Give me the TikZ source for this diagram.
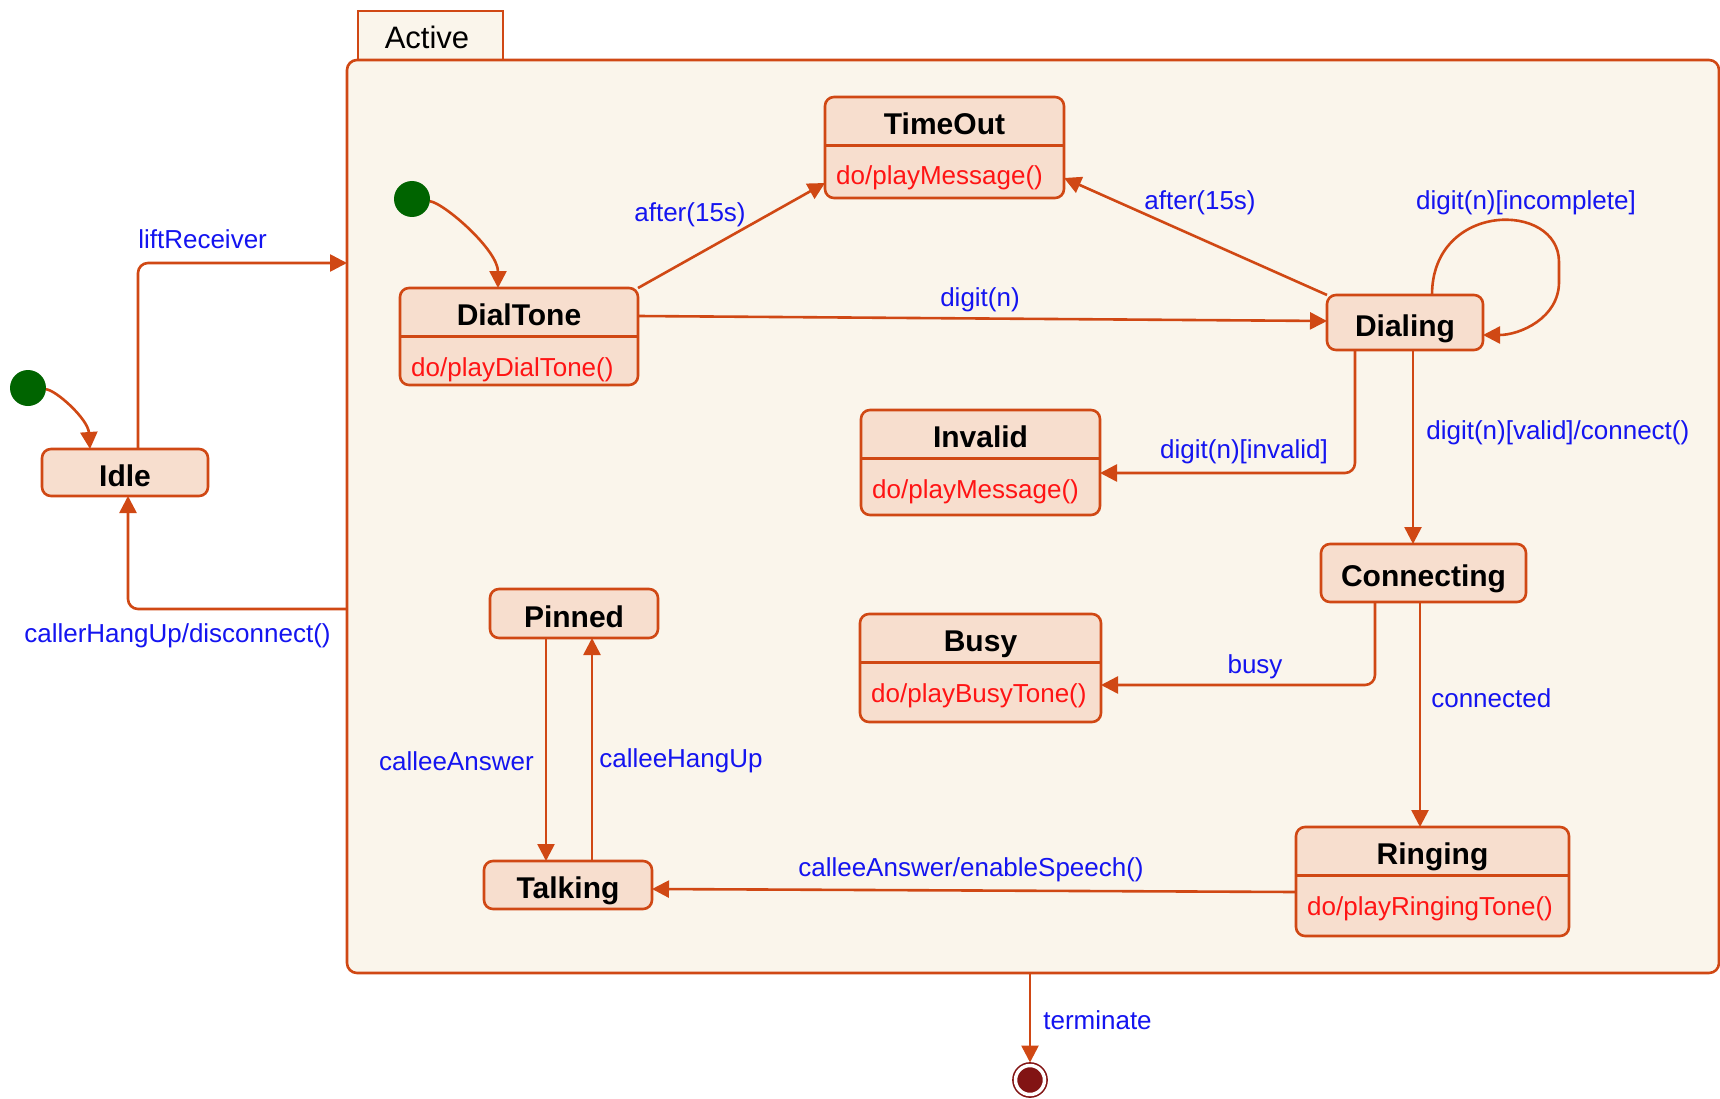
\documentclass[tikz,border=0pt]{standalone}
\usepackage{fontspec}
\setmainfont{Liberation Sans}
\usetikzlibrary{arrows.meta,calc}
\definecolor{edgec}{RGB}{208,72,20}
\definecolor{statefill}{RGB}{247,222,206}
\definecolor{framefill}{RGB}{250,245,235}
\definecolor{lblblue}{RGB}{20,20,240}
\definecolor{actred}{RGB}{255,20,20}
\definecolor{initgreen}{RGB}{0,100,0}
\definecolor{finalc}{RGB}{130,20,20}
\newcommand\fTitle{\fontsize{30}{34}\selectfont\bfseries}
\newcommand\fLbl{\fontsize{26}{30}\selectfont}
\newcommand\fAct{\fontsize{26}{30}\selectfont}
\newcommand\fActive{\fontsize{31}{35}\selectfont}
\newcommand\twostate[7]{%
  \node[statebox, minimum width=#4pt, minimum height=#5pt] (#1) at (#2,#3) {};
  \draw[divider] ($(#1.north west)+(0,48.5)$) -- ($(#1.north east)+(0,48.5)$);
  \node[title, anchor=base] (#1T) at ($(#1.north)+(0,37.5)$) {#6};
  \node[act, anchor=base west] (#1A) at ($(#1.north west)+(11,88)$) {#7};
}
\begin{document}
\begin{tikzpicture}[x=1pt,y=-1pt,
  conn/.style={draw=edgec, line width=2.6pt, -{Triangle[length=17pt,width=17pt]}, rounded corners=10pt},
  statebox/.style={draw=edgec, fill=statefill, line width=2.6pt, rounded corners=9pt, inner sep=0pt, outer sep=0pt},
  onestate/.style={statebox, font=\fTitle, text height=27pt, text depth=0pt},
  divider/.style={draw=edgec, line width=2.6pt},
  title/.style={font=\fTitle, inner sep=0pt, text=black},
  act/.style={font=\fAct, text=actred, inner sep=0pt},
  lbl/.style={font=\fLbl, text=lblblue, inner sep=0pt},
  initst/.style={circle, fill=initgreen, minimum size=36pt, inner sep=0pt, outer sep=0pt},
  finalst/.style={circle, draw=finalc, double=white, double distance=3.5pt, line width=1.6pt, fill=finalc, minimum size=29pt, inner sep=0pt, outer sep=3pt}
]
\useasboundingbox (0,0) rectangle (1720,1099);
\fill[white] (0,0) rectangle (1720,1099);
\clip (0,0) rectangle (1720,1099);

% composite state Active
\node[draw=edgec, fill=framefill, line width=2.6pt, minimum width=145pt, minimum height=49pt, inner sep=0pt] (activetab) at (430.5,35.5) {};
\node[font=\fActive, inner sep=0pt] (activeT) at (427,37) {Active};
\node[draw=edgec, fill=framefill, line width=2.6pt, rounded corners=10pt, minimum width=1372pt, minimum height=913pt, inner sep=0pt, outer sep=0pt] (active) at (1033,516.5) {};

% initial / final states
\node[initst] (init1) at (28,388) {};
\node[initst] (init2) at (412,199) {};
\node[finalst] (final) at (1030,1080) {};

% simple states
\node[onestate, minimum width=166pt, minimum height=47pt] (idle) at (125,472.5) {Idle};
\node[onestate, minimum width=156pt, minimum height=55pt] (dialing) at (1405,322.5) {Dialing};
\node[onestate, minimum width=205pt, minimum height=58pt] (connecting) at (1423.5,573) {Connecting};
\node[onestate, minimum width=168pt, minimum height=49pt] (pinned) at (574,613.5) {Pinned};
\node[onestate, minimum width=168pt, minimum height=48pt] (talking) at (568,885) {Talking};

% states with activity
\twostate{dialtone}{519}{336.5}{238}{97}{DialTone}{do/playDialTone()}
\twostate{timeout}{944.5}{147.5}{239}{101}{TimeOut}{do/playMessage()}
\twostate{invalid}{980.5}{462.5}{239}{105}{Invalid}{do/playMessage()}
\twostate{busy}{980.5}{668}{241}{108}{Busy}{do/playBusyTone()}
\twostate{ringing}{1432.5}{881.5}{273}{109}{Ringing}{do/playRingingTone()}

% transitions
\draw[conn] (init1) .. controls +(28,2) and +(-2,-30) .. ([xshift=-35pt]idle.north);
\draw[conn] ([xshift=13pt]idle.north) |- ($(active.north west)+(0,203)$)
  node[lbl, anchor=west] at (137,239) {liftReceiver};
\draw[conn] ($(active.north west)+(0,549)$) -| ([xshift=3pt]idle.south)
  node[lbl, anchor=west] at (23,636) {callerHangUp/disconnect()};
\draw[conn] (init2) .. controls +(32,4) and +(0,-38) .. ([xshift=-21pt]dialtone.north);
\draw[conn] (dialtone.north east) -- ($(timeout.west)+(0,35.5)$)
  node[lbl] at (690,215) {after(15s)};
\draw[conn] (dialing.north west) -- ($(timeout.east)+(0,30.5)$)
  node[lbl] at (1200,203) {after(15s)};
\draw[conn] ($(dialtone.east)+(0,-20.5)$) -- ($(dialing.west)+(0,-1.5)$)
  node[lbl] at (980,300) {digit(n)};
\draw[conn] ([xshift=27pt]dialing.north) .. controls +(0,-94) and +(0,-71) .. (1559,272)
  .. controls +(0,46) and +(37,0) .. ($(dialing.east)+(0,12.5)$)
  node[lbl] at (1526,203) {digit(n)[incomplete]};
\draw[conn] ([xshift=-50pt]dialing.south) |- ($(invalid.east)+(0,10.5)$)
  node[lbl] at (1244,452) {digit(n)[invalid]};
\draw[conn] ([xshift=8pt]dialing.south) -- ([xshift=-10.5pt]connecting.north)
  node[lbl, anchor=west] at (1425,433) {digit(n)[valid]/connect()};
\draw[conn] ([xshift=-48.5pt]connecting.south) |- ($(busy.east)+(0,17)$)
  node[lbl] at (1255,667) {busy};
\draw[conn] ([xshift=-3.5pt]connecting.south) -- ([xshift=-12.5pt]ringing.north)
  node[lbl, anchor=west] at (1430,698) {connected};
\draw[conn] ($(ringing.west)+(0,10.5)$) -- ($(talking.east)+(0,4)$)
  node[lbl] at (971,870) {calleeAnswer/enableSpeech()};
\draw[conn] ([xshift=-28pt]pinned.south) -- ([xshift=-22pt]talking.north)
  node[lbl, anchor=east] at (535,761) {calleeAnswer};
\draw[conn] ([xshift=24pt]talking.north) -- ([xshift=18pt]pinned.south)
  node[lbl, anchor=west] at (598,761) {calleeHangUp};
\draw[conn] ([xshift=-3pt]active.south) -- (final)
  node[lbl, anchor=west] at (1042,1020) {terminate};
\end{tikzpicture}
\end{document}
